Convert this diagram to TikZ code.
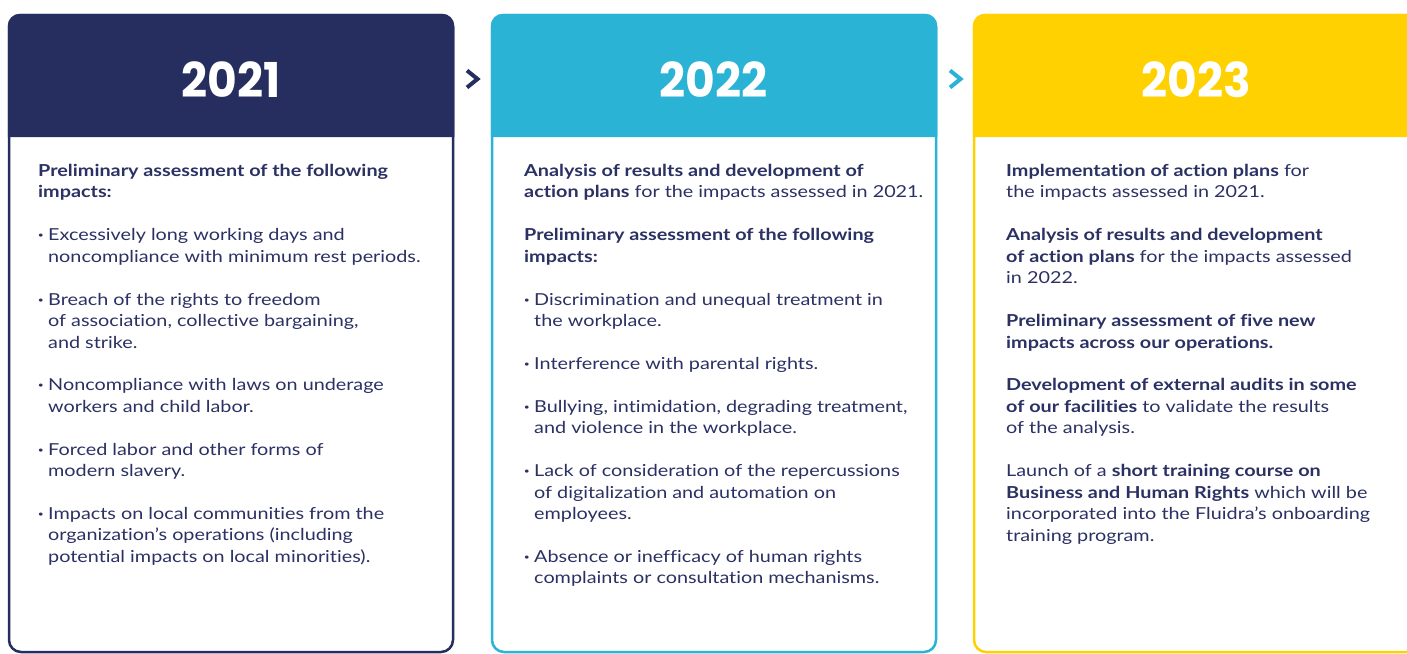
\documentclass[tikz,border=0pt]{standalone}
\usepackage{fontspec}
\setmainfont{Lato}[FakeStretch=1.2, Ligatures=NoCommon]
\newfontfamily\yearfont{Poppins}
\definecolor{navy}{HTML}{262D5F}
\definecolor{cyanc}{HTML}{2BB3D6}
\definecolor{yell}{HTML}{FFD100}
\definecolor{txt}{HTML}{2B3163}
\newcommand{\bul}{\makebox[10pt][l]{\bfseries\textperiodcentered}}
\newcommand{\ind}{\makebox[10pt]{}}
\newcommand{\gp}{\\[21.44pt]}
\tikzset{
  body/.style={inner sep=0pt, anchor=base west, align=left, text=txt,
    font=\fontsize{16.5}{21.44}\selectfont},
  yearlabel/.style={inner sep=0pt, text=white, font=\yearfont\bfseries\fontsize{48}{48}\selectfont},
  chev/.style={line width=4pt, line join=miter}
}
\begin{document}
\begin{tikzpicture}[x=1pt,y=-1pt]
\useasboundingbox (0,0) rectangle (1407,653);
\clip (0,0) rectangle (1407,653);
\fill[white] (0,0) rectangle (1407,653);
% cards
\foreach \xl/\col in {9/navy, 492/cyanc, 974/yell}{
  \draw[\col, line width=2.5pt, rounded corners=12pt, fill=white] (\xl,15) rectangle (\xl+444,652);
  \fill[\col] (\xl-1.25,137) [rounded corners=12pt] -- (\xl-1.25,13.75) -- (\xl+445.25,13.75) [sharp corners] -- (\xl+445.25,137) -- cycle;
}
\node[yearlabel] (y1) at (231,79.5) {\scalebox{0.95}[1]{2021}};
\node[yearlabel] (y2) at (713.5,79.5) {\scalebox{0.95}[1]{2022}};
\node[yearlabel] (y3) at (1196,79.5) {\scalebox{0.95}[1]{2023}};
% chevrons
\coordinate (c1a) at (467,70.5); \coordinate (c1b) at (477.5,79); \coordinate (c1c) at (467,87.5);
\draw[chev, navy] (c1a) -- (c1b) -- (c1c);
\coordinate (c2a) at (950,70.5); \coordinate (c2b) at (960.5,79); \coordinate (c2c) at (950,87.5);
\draw[chev, cyanc] (c2a) -- (c2b) -- (c2c);
% texts (anchored at the baseline of the last line)
\node[body] (t1) at (38,562.4) {%
\textbf{Preliminary assessment of the following}\\
\textbf{impacts:}\gp
\bul Excessively long working days and\\
\ind noncompliance with minimum rest periods.\gp
\bul Breach of the rights to freedom\\
\ind of association, collective bargaining,\\
\ind and strike.\gp
\bul Noncompliance with laws on underage\\
\ind workers and child labor.\gp
\bul Forced labor and other forms of\\
\ind modern slavery.\gp
\bul Impacts on local communities from the\\
\ind organization’s operations (including\\
\ind potential impacts on local minorities).};
\node[body] (t2) at (524,583.9) {%
\textbf{Analysis of results and development of}\\
\textbf{action plans} for the impacts assessed in 2021.\gp
\textbf{Preliminary assessment of the following}\\
\textbf{impacts:}\gp
\bul Discrimination and unequal treatment in\\
\ind the workplace.\gp
\bul Interference with parental rights.\gp
\bul Bullying, intimidation, degrading treatment,\\
\ind and violence in the workplace.\gp
\bul Lack of consideration of the repercussions\\
\ind of digitalization and automation on\\
\ind employees.\gp
\bul Absence or inefficacy of human rights\\
\ind complaints or consultation mechanisms.};
\node[body] (t3) at (1006,541.0) {%
\textbf{Implementation of action plans} for\\
the impacts assessed in 2021.\gp
\textbf{Analysis of results and development}\\
\textbf{of action plans} for the impacts assessed\\
in 2022.\gp
\textbf{Preliminary assessment of five new}\\
\textbf{impacts across our operations.}\gp
\textbf{Development of external audits in some}\\
\textbf{of our facilities} to validate the results\\
of the analysis.\gp
Launch of a \textbf{short training course on}\\
\textbf{Business and Human Rights} which will be\\
incorporated into the Fluidra’s onboarding\\
training program.};
\end{tikzpicture}
\end{document}
